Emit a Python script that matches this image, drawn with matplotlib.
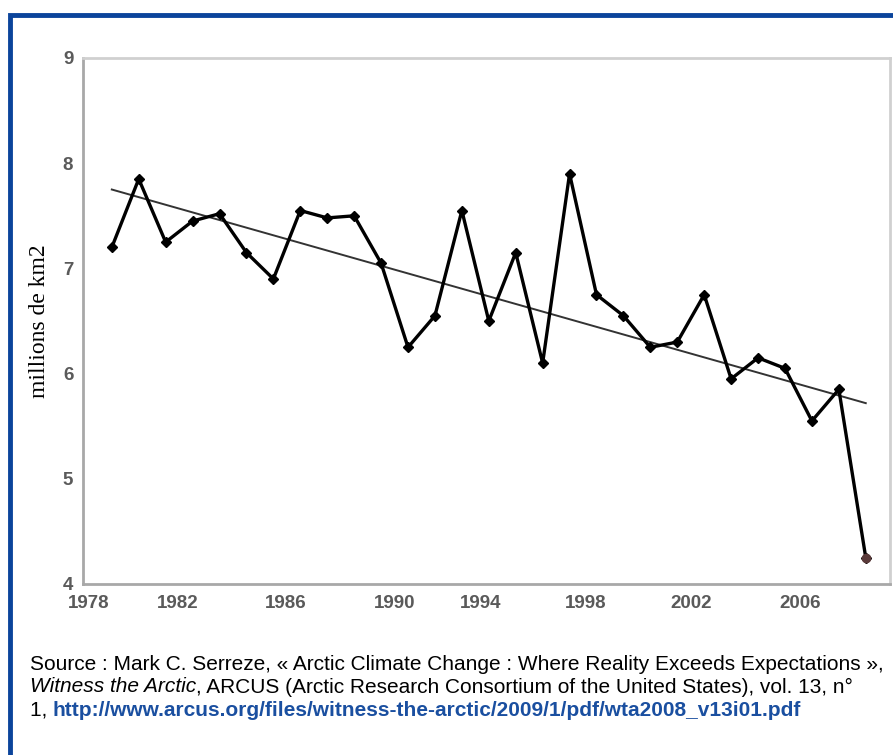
import matplotlib
matplotlib.use('Agg')
import matplotlib.pyplot as plt
import matplotlib.patches as mpatches
import numpy as np

# September Arctic sea-ice extent (millions km2)
years = [1979, 1980, 1981, 1982, 1983, 1984, 1985, 1986, 1987, 1988,
         1989, 1990, 1991, 1992, 1993, 1994, 1995, 1996, 1997, 1998,
         1999, 2000, 2001, 2002, 2003, 2004, 2005, 2006, 2007]
extent = [7.20, 7.85, 7.25, 7.45, 7.52, 7.15, 6.90, 7.55, 7.48, 7.50,
          7.05, 6.25, 6.55, 7.55, 6.50, 7.15, 6.10, 7.90, 6.75, 6.55,
          6.25, 6.30, 6.75, 5.95, 6.15, 6.05, 5.55, 5.85, 4.25]

xtick_labels = ['1978', '1982', '1986', '1990', '1994', '1998', '2002', '2006']
ytick_values = [4, 5, 6, 7, 8, 9]

# the original picture's year labels sit unevenly under the axis
xtick_pos = [1978.15, 1981.45, 1985.45, 1989.5, 1992.7, 1996.6, 2000.5, 2004.55]

W, H = 893, 755
fig = plt.figure(figsize=(W / 100, H / 100), dpi=100)
ax = fig.add_axes([83 / W, 1 - 584 / H, (890 - 83) / W, (584 - 58) / H])

x = np.array(years)
y = np.array(extent)
slope, icpt = np.polyfit(x, y, 1)

ax.plot(x, slope * x + icpt, color='#333333', lw=1.4, zorder=2)
ax.plot(x, y, color='black', lw=2.4, marker='D', ms=5, zorder=3)
ax.plot(x[-1:], y[-1:], ls='none', marker='o', ms=6, color='#5a3a3a', zorder=4)

ax.set_xlim(1977.93, 2007.9)
ax.set_ylim(4, 9)
ax.set_xticks(xtick_pos)
ax.set_xticklabels(xtick_labels)
ax.set_yticks(ytick_values)

for lab in ax.get_xticklabels() + ax.get_yticklabels():
    lab.set_family('Liberation Sans')
    lab.set_color('#5a5a5a')
    lab.set_fontsize(13.5)
    lab.set_fontweight('bold')
ax.tick_params(axis='x', length=0, pad=8)
ax.tick_params(axis='y', length=0, pad=7)

for side in ['left', 'bottom']:
    ax.spines[side].set_color('#a8a8a8')
    ax.spines[side].set_linewidth(2)
for side in ['top', 'right']:
    ax.spines[side].set_color('#d0d0d0')
    ax.spines[side].set_linewidth(2)

fig.text(40 / W, 1 - 321 / H, 'millions de km2', rotation=90, ha='center', va='center',
         family='Liberation Serif', fontsize=17)

# blue frame, only left and top edges are inside the picture
frame = mpatches.Rectangle((10 / W, -0.1), 1.2, 1 - 14.5 / H + 0.1, transform=fig.transFigure,
                           fill=False, edgecolor='#0b449b', lw=3.5, clip_on=False)
fig.patches.append(frame)

# source note, built from pieces with different styles
fs = 15
lines = [
    [('Source : Mark C. Serreze, « Arctic Climate Change : Where Reality Exceeds Expectations »,', 'normal', 'normal', 'black')],
    [('Witness the Arctic', 'italic', 'normal', 'black'),
     (', ARCUS (Arctic Research Consortium of the United States), vol. 13, n°', 'normal', 'normal', 'black')],
    [('1, ', 'normal', 'normal', 'black'),
     ('http://www.arcus.org/files/witness-the-arctic/2009/1/pdf/wta2008_v13i01.pdf', 'normal', 'bold', '#1a4fa0')],
]
line_y = [664, 687, 710]
renderer = fig.canvas.get_renderer()
for parts, ypx in zip(lines, line_y):
    xpx = 30
    for txt, style, weight, col in parts:
        t = fig.text(xpx / W, 1 - ypx / H, txt, ha='left', va='center', fontsize=fs,
                     family='Liberation Sans', style=style, weight=weight, color=col)
        xpx += t.get_window_extent(renderer).width

fig.savefig('out.png', dpi=100)
